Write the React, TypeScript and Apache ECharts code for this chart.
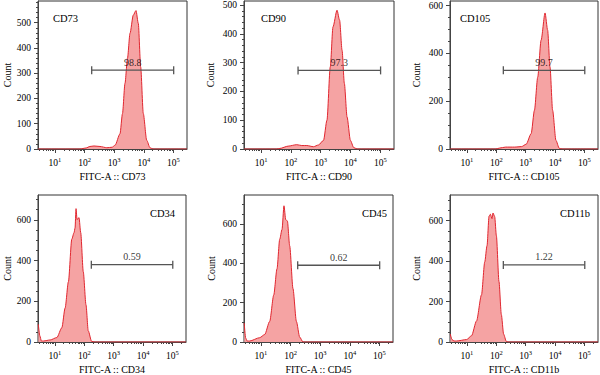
import React, { useEffect, useRef } from "react";
import * as echarts from "echarts";

// ---- data (x in log10 FITC-A units, y in counts) ----
const markers = ["CD73", "CD90", "CD105", "CD34", "CD45", "CD11b"];
const gateLabels = ["98.8", "97.3", "99.7", "0.59", "0.62", "1.22"];
const gateRange = [2.24, 5.01];
const gateCounts = [312, 273, 329, 380, 391, 381];
const yMax = [586, 514, 619, 722, 749, 727];
const yMajorStep = [100, 100, 200, 200, 200, 200];
const yMinorStep = [20, 20, 50, 50, 50, 50];
const xDecades = [1, 2, 3, 4, 5];
const xRange = [0.426, 5.46];

const cd73X = [0.426, 1.845, 2.05, 2.18, 2.318, 2.52, 2.75, 2.93, 3.03, 3.196, 3.28, 3.365, 3.45, 3.534, 3.645, 3.737, 3.815, 3.895, 3.983, 4.098, 4.21, 4.31, 5.46];
const cd73Y = [0, 0, 4, 10, 12, 10, 5, 7, 15, 60, 140, 260, 360, 458, 530, 548, 497, 325, 141, 35, 5, 0, 0];

const cd90X = [0.426, 1.52, 1.63, 1.91, 2.196, 2.365, 2.534, 2.757, 2.926, 3.095, 3.21, 3.321, 3.412, 3.548, 3.635, 3.717, 3.794, 3.885, 3.997, 4.108, 4.223, 5.46];
const cd90Y = [0, 0, 2, 10, 15, 12, 12, 8, 14, 30, 100, 285, 424, 482, 447, 343, 228, 111, 30, 5, 0, 0];

const cd105X = [0.426, 1.98, 2.115, 2.318, 2.62, 2.86, 3.017, 3.186, 3.298, 3.409, 3.524, 3.659, 3.747, 3.828, 3.916, 4.03, 4.142, 4.24, 5.46];
const cd105Y = [0, 0, 4, 8, 8, 10, 20, 64, 162, 300, 455, 569, 497, 343, 162, 36, 3, 0, 0];

const cd34X = [0.436, 0.49, 0.54, 0.615, 0.84, 1.068, 1.237, 1.348, 1.46, 1.575, 1.652, 1.686, 1.72, 1.754, 1.821, 1.879, 1.966, 2.058, 2.135, 2.25, 2.36, 5.46];
const cd34Y = [87, 30, 5, 5, 10, 22, 70, 167, 296, 505, 537, 560, 655, 601, 611, 537, 345, 183, 55, 3, 0, 0];

const cd45X = [0.433, 0.483, 0.534, 0.618, 0.956, 1.125, 1.294, 1.43, 1.541, 1.632, 1.71, 1.777, 1.835, 1.892, 1.97, 2.081, 2.196, 2.308, 2.419, 5.46];
const cd45Y = [97, 20, 5, 5, 22, 38, 105, 239, 373, 523, 573, 694, 624, 616, 490, 272, 105, 25, 0, 0];

const cd11bX = [0.436, 0.494, 0.56, 0.652, 0.99, 1.159, 1.328, 1.497, 1.608, 1.686, 1.754, 1.8, 1.855, 1.889, 1.946, 2.004, 2.092, 2.172, 2.25, 2.341, 2.42, 5.46];
const cd11bY = [39, 12, 5, 5, 12, 31, 104, 233, 396, 477, 623, 632, 610, 638, 620, 525, 299, 136, 39, 3, 0, 0];

const histX = [cd73X, cd90X, cd105X, cd34X, cd45X, cd11bX];
const histY = [cd73Y, cd90Y, cd105Y, cd34Y, cd45Y, cd11bY];

// ---- layout ----
const grids = [
  { left: 38, top: 1, width: 149, height: 148 },
  { left: 244, top: 1, width: 150, height: 148 },
  { left: 450, top: 1, width: 148, height: 148 },
  { left: 38, top: 195, width: 148, height: 150 },
  { left: 244, top: 195, width: 149, height: 149 },
  { left: 450, top: 195, width: 148, height: 150 },
];
const titlePos = [
  { x: 53, y: 18, align: "left" },
  { x: 261, y: 18, align: "left" },
  { x: 460, y: 18, align: "left" },
  { x: 175, y: 213, align: "right" },
  { x: 387, y: 213, align: "right" },
  { x: 590, y: 213, align: "right" },
];
const nameGapY = [24, 29, 29, 24, 28, 29];

const FONT = "'Liberation Serif', 'DejaVu Serif', serif";
const AXIS = "#444";
const TXT = "#000";

function range(start: number, end: number, step: number) {
  const out: number[] = [];
  for (let v = start; v <= end + 1e-9; v += step) out.push(v);
  return out;
}

const xMinor: number[] = [];
for (let k = 0; k <= 5; k++) {
  for (let m = 2; m <= 9; m++) {
    const v = k + Math.log10(m);
    if (v > xRange[0] && v < xRange[1]) xMinor.push(v);
  }
}

export default function App() {
  const ref = useRef<HTMLDivElement>(null);
  useEffect(() => {
    if (!ref.current) return;
    const chart = echarts.init(ref.current, null, { renderer: "svg" });
    const xAxis: any[] = [];
    const yAxis: any[] = [];
    const series: any[] = [];
    grids.forEach((g, i) => {
      xAxis.push({
        type: "value", gridIndex: i, min: xRange[0], max: xRange[1], position: "bottom",
        axisLine: { show: true, lineStyle: { color: AXIS, width: 1 } },
        axisTick: { show: true, customValues: xMinor, length: 2, lineStyle: { color: AXIS } },
        axisLabel: { show: false }, splitLine: { show: false },
      });
      xAxis.push({
        type: "value", gridIndex: i, min: xRange[0], max: xRange[1], position: "bottom",
        axisLine: { show: false },
        axisTick: { show: true, customValues: xDecades, length: 4, lineStyle: { color: AXIS } },
        axisLabel: {
          show: true, customValues: xDecades, margin: 7,
          formatter: (v: number) => `{b|10}{s|${Math.round(v)}}`,
          rich: {
            b: { fontFamily: FONT, fontSize: 9.5, color: TXT },
            s: { fontFamily: FONT, fontSize: 6.5, color: TXT, padding: [0, 0, 6, 0] },
          },
        },
        splitLine: { show: false },
        name: `FITC-A :: ${markers[i]}`, nameLocation: "middle", nameGap: 22,
        nameTextStyle: { fontFamily: FONT, fontSize: 10, color: TXT },
      });
      const yMinorTicks = range(0, yMax[i], yMinorStep[i]);
      const yMajorTicks = range(0, yMax[i], yMajorStep[i]);
      yAxis.push({
        type: "value", gridIndex: i, min: 0, max: yMax[i], position: "left",
        axisLine: { show: true, lineStyle: { color: AXIS, width: 1 } },
        axisTick: { show: true, customValues: yMinorTicks, length: 2, lineStyle: { color: AXIS } },
        axisLabel: { show: false }, splitLine: { show: false },
      });
      yAxis.push({
        type: "value", gridIndex: i, min: 0, max: yMax[i], position: "left",
        axisLine: { show: false },
        axisTick: { show: true, customValues: yMajorTicks, length: 4, lineStyle: { color: AXIS } },
        axisLabel: { show: true, customValues: yMajorTicks, margin: 7, fontFamily: FONT, fontSize: 9.5, color: TXT },
        splitLine: { show: false },
        name: "Count", nameLocation: "middle", nameGap: nameGapY[i],
        nameTextStyle: { fontFamily: FONT, fontSize: 10, color: TXT },
      });
      const xi = i * 2 + 1;
      const yi = i * 2 + 1;
      series.push({
        type: "line", xAxisIndex: xi, yAxisIndex: yi,
        data: histX[i].map((x, k) => [x, histY[i][k]]),
        symbol: "none", smooth: 0.25, smoothMonotone: "x",
        lineStyle: { color: "#e0262f", width: 1 },
        areaStyle: { color: "#f5a3a3", opacity: 1 },
        z: 2,
      });
      series.push({
        type: "line", xAxisIndex: xi, yAxisIndex: yi,
        data: [[gateRange[0], gateCounts[i]], [gateRange[1], gateCounts[i]]],
        symbol: "rect", symbolSize: [1.3, 8], showSymbol: true,
        itemStyle: { color: "#555" }, lineStyle: { color: "#555", width: 1.3 },
        z: 3,
      });
      series.push({
        type: "scatter", xAxisIndex: xi, yAxisIndex: yi,
        data: [[(gateRange[0] + gateRange[1]) / 2, gateCounts[i]]],
        symbolSize: 0,
        label: {
          show: true, position: "top", distance: 3, formatter: gateLabels[i],
          fontFamily: FONT, fontSize: 10, color: TXT,
        },
        z: 4,
      });
    });
    chart.setOption({
      animation: false,
      backgroundColor: "#fff",
      grid: grids.map((g) => ({ ...g, show: true, borderColor: "#333", borderWidth: 1, backgroundColor: "transparent" })),
      xAxis, yAxis, series,
      graphic: markers.map((m, i) => ({
        type: "text", x: titlePos[i].x, y: titlePos[i].y, z: 10,
        style: {
          text: m, fontFamily: FONT, fontSize: 10.5, fill: TXT,
          textAlign: titlePos[i].align, textVerticalAlign: "middle",
        },
      })),
    });
    return () => chart.dispose();
  }, []);
  return <div ref={ref} style={{ position: "fixed", left: 0, top: 0, width: 600, height: 375 }} />;
}
